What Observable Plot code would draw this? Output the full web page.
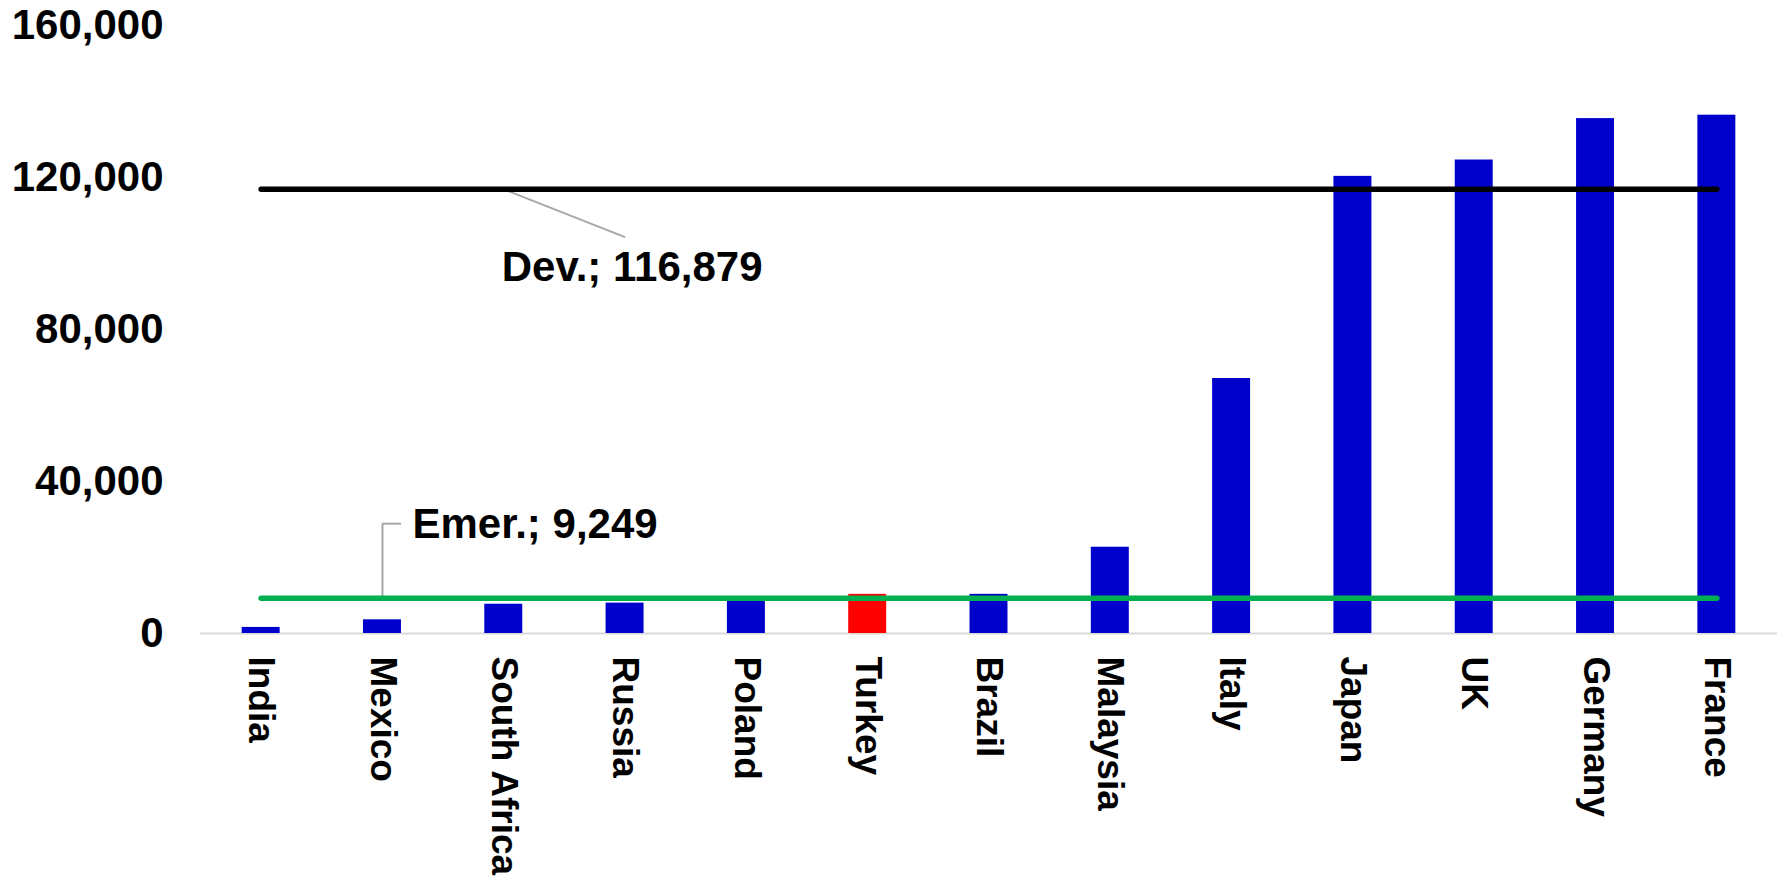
<!DOCTYPE html>
<html>
<head>
<meta charset="utf-8">
<script src="https://cdn.jsdelivr.net/npm/d3@7"></script>
<script src="https://cdn.jsdelivr.net/npm/@observablehq/plot@0.6"></script>
<style>
  html, body { margin: 0; padding: 0; background: #ffffff; }
  body { width: 1783px; height: 882px; overflow: hidden; }
</style>
</head>
<body>
<div id="chart"></div>
<script>
// ---- data ----
const countries = ["India", "Mexico", "South Africa", "Russia", "Poland", "Turkey", "Brazil", "Malaysia", "Italy", "Japan", "UK", "Germany", "France"];
const values = [1600, 3600, 7700, 8000, 9000, 10300, 10300, 22700, 67100, 120300, 124600, 135500, 136400];
const highlight = "Turkey";
const yTicks = [0, 40000, 80000, 120000, 160000];

// group averages drawn as reference lines
const groupNames = ["Dev.", "Emer."];
const groupAverages = [116879, 9249];
// annotation anchors (category where leader starts / ends and value of leader end)
const leaderStart = ["South Africa", "Mexico"];
const leaderEndCat = ["Russia", "Mexico"];
const leaderEndValue = [104300, 28900];

// ---- build tables ----
const fmt = d3.format(",");
const bars = countries.map((c, i) => ({country: c, value: values[i]}));
const firstCat = countries[0], lastCat = countries[countries.length - 1];
const avgLines = groupNames.map((g, i) => [
  {group: g, country: firstCat, value: groupAverages[i]},
  {group: g, country: lastCat, value: groupAverages[i]}
]);
const labels = groupNames.map((g, i) => ({
  text: `${g}; ${fmt(groupAverages[i])}`,
  country: leaderStart[i], value: groupAverages[i]
}));
const leaders = groupNames.map((g, i) => ({
  x1: leaderStart[i], y1: groupAverages[i], x2: leaderEndCat[i], y2: leaderEndValue[i]
}));

const BLUE = "#0000CC", RED = "#FF0000", GREEN = "#00B050", LEADER = "#a6a6a6";
const FONT = 42;
const XFONT = 37;

const chart = Plot.plot({
  width: 1783,
  height: 882,
  marginLeft: 200,
  marginRight: 6,
  marginTop: 25,
  marginBottom: 249,
  style: {fontFamily: "'Liberation Sans', Arial, sans-serif", background: "#ffffff", color: "#000000", overflow: "visible"},
  x: {domain: countries, paddingInner: 0.687, paddingOuter: 0.3435, axis: null, round: false},
  y: {domain: [0, 160000], axis: null},
  color: {type: "identity"},
  marks: [
    Plot.ruleY([0], {stroke: "#d9d9d9", strokeWidth: 2}),
    Plot.barY(bars, {x: "country", y: "value", fill: d => d.country === highlight ? RED : BLUE}),
    // leader lines
    Plot.link([leaders[0]], {x1: "x1", y1: "y1", x2: "x2", y2: "y2", stroke: LEADER, strokeWidth: 2}),
    Plot.link([leaders[1]], {x1: "x1", y1: "y1", x2: "x2", y2: "y2", stroke: LEADER, strokeWidth: 2}),
    Plot.tickY([leaders[1]], {x: "x2", y: "y2", stroke: LEADER, strokeWidth: 2, insetLeft: 19}),
    // average lines
    Plot.line(avgLines[0], {x: "country", y: "value", stroke: "#000000", strokeWidth: 5.5, strokeLinecap: "round"}),
    Plot.line(avgLines[1], {x: "country", y: "value", stroke: GREEN, strokeWidth: 5.5, strokeLinecap: "round"}),
    // labels
    Plot.text([labels[0]], {x: "country", y: "value", text: "text", textAnchor: "start", lineAnchor: "middle", dx: -2, dy: 78.5, fontSize: FONT, fontWeight: "bold", fill: "#000000"}),
    Plot.text([labels[1]], {x: "country", y: "value", text: "text", textAnchor: "start", lineAnchor: "middle", dx: 30, dy: -73.5, fontSize: FONT, fontWeight: "bold", fill: "#000000"}),
    // axes
    Plot.axisY({ticks: yTicks, tickSize: 0, tickPadding: 37, tickFormat: fmt, fontSize: FONT, fontWeight: "bold", fill: "#000000"}),
    Plot.text(countries, {x: d => d, frameAnchor: "bottom", rotate: 90, textAnchor: "start", lineAnchor: "middle", dy: 23, fontSize: XFONT, fontWeight: "bold", fill: "#000000"})
  ]
});
document.getElementById("chart").appendChild(chart);
</script>
</body>
</html>
